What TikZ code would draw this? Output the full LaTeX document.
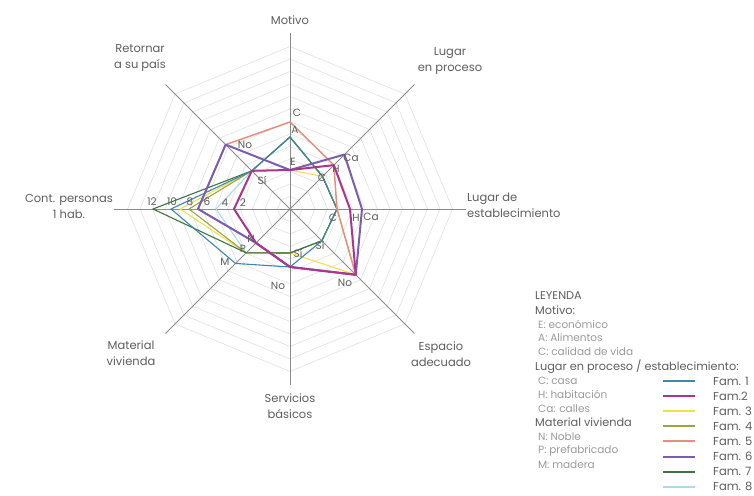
\documentclass[tikz,border=0pt]{standalone}
\usepackage{fontspec}
\setmainfont{Poppins}
\definecolor{txt}{HTML}{5E5E5E}
\definecolor{ltxt}{HTML}{9A9A9A}
\definecolor{fa}{HTML}{3F86A8}
\definecolor{fb}{HTML}{A8358E}
\definecolor{fc}{HTML}{F0E050}
\definecolor{fd}{HTML}{9DA346}
\definecolor{fe}{HTML}{E3907F}
\definecolor{ff}{HTML}{7B5FAE}
\definecolor{fg}{HTML}{3F7344}
\definecolor{fh}{HTML}{A9DBE6}
\begin{document}
\begin{tikzpicture}[x=1pt,y=1pt,
  ring/.style={draw=black!12, line width=0.6},
  spoke/.style={draw=black!45, line width=0.9},
  axlab/.style={font=\fontsize{11.5}{16}\selectfont, text=txt, align=center, inner sep=0},
  vlab/.style={font=\fontsize{10.5}{11}\selectfont, text=txt, inner sep=0},
  leg/.style={font=\fontsize{10.5}{11}\selectfont, text=ltxt, anchor=west, inner sep=0},
  leghead/.style={leg, font=\fontsize{11.3}{12}\selectfont, text=txt},
  famlab/.style={font=\fontsize{11.5}{12}\selectfont, text=txt, anchor=west, inner sep=0},
  fam/.style={line width=1.1, line join=round},
  famthick/.style={line width=2, line join=round}]
\useasboundingbox (-290,-286) rectangle (464,209);
\coordinate (O) at (0,0);
% grid rings
\foreach \k in {1,...,13}{
  \draw[ring] (0:{\k*12.5}) \foreach \a in {45,90,...,315}{ -- (\a:{\k*12.5})} -- cycle;
}
% axis ends
\coordinate (aMot) at (90:176);
\coordinate (aPro) at (45:176);
\coordinate (aEst) at (0:176);
\coordinate (aEsp) at (-45:176);
\coordinate (aSer) at (-90:176);
\coordinate (aMat) at (-135:176);
\coordinate (aCon) at (180:176);
\coordinate (aRet) at (135:176);
\foreach \e in {aMot,aPro,aEst,aEsp,aSer,aMat,aCon,aRet}{\draw[spoke] (O) -- (\e);}
% value points
\coordinate (mE) at (90:39); \coordinate (mA) at (90:72); \coordinate (mC) at (90:87);
\coordinate (pC) at (45:46); \coordinate (pH) at (45:62); \coordinate (pCa) at (45:77);
\coordinate (eC) at (0:47); \coordinate (eH) at (0:60); \coordinate (eCa) at (0:72);
\coordinate (sSi) at (-45:45); \coordinate (sNo) at (-45:93);
\coordinate (vSi) at (-90:44); \coordinate (vNo) at (-90:58);
\coordinate (mN) at (-135:48); \coordinate (mP) at (-135:62); \coordinate (mM) at (-135:77);
\foreach \n in {2,...,12}{\coordinate (c\n) at (180:{29+9*\n});}
\coordinate (rSi) at (135:54); \coordinate (rNo) at (135:91);
% families
\draw[fam, draw=fh] (mA) -- (pC) -- (eC) -- (sSi) -- (vSi) -- (mP) -- (c5) -- (rSi) -- cycle;
\draw[fam, draw=fc] (mE) -- (pC) -- (eC) -- (sNo) -- (vSi) -- (mP) -- (c9) -- (rSi) -- cycle;
\draw[fam, draw=fd] (mA) -- (pC) -- (eC) -- (sSi) -- (vSi) -- (mP) -- (c8) -- (rSi) -- cycle;
\draw[fam, draw=fg] (mA) -- (pC) -- (eC) -- (sSi) -- (vSi) -- (mP) -- (c12) -- (rSi) -- cycle;
\draw[fam, draw=fa] (mA) -- (pC) -- (eC) -- (sSi) -- (vNo) -- (mM) -- (c10) -- (rSi) -- cycle;
\draw[fam, draw=fe, line width=1.5] (mC) -- (pH) -- (eC) -- (sNo) -- (vNo) -- (mN) -- (c7) -- (rNo) -- cycle;
\draw[famthick, draw=ff] (mE) -- (pCa) -- (eCa) -- (sNo) -- (vNo) -- (mN) -- (c7) -- (rNo) -- cycle;
\draw[famthick, draw=fb] (mE) -- (pH) -- (eH) -- (sNo) -- (vNo) -- (mN) -- (c3) -- (rSi) -- cycle;
% axis labels
\node[axlab] (lMot) at (0,189) {Motivo};
\node[axlab] (lPro) at (160,148) {Lugar\\en proceso};
\node[axlab, anchor=west, align=left] (lEst) at (177,4) {Lugar de\\establecimiento};
\node[axlab] (lEsp) at (151,-145) {Espacio\\adecuado};
\node[axlab] (lSer) at (0,-197) {Servicios\\básicos};
\node[axlab] (lMat) at (-159,-144) {Material\\vivienda};
\node[axlab] (lCon) at (-221,3) {Cont. personas\\1 hab.};
\node[axlab] (lRet) at (-150,151) {Retornar\\a su país};
% value labels
\node[vlab] (tmC) at (7,96) {C};
\node[vlab] (tmA) at (5,79) {A};
\node[vlab] (tmE) at (3,47) {E};
\node[vlab] (tpCa) at (61,51) {Ca};
\node[vlab] (tpH) at (46,40) {H};
\node[vlab] (tpC) at (32,31) {C};
\node[vlab] (teC) at (43,-9) {C};
\node[vlab] (teH) at (66,-9) {H};
\node[vlab] (teCa) at (81,-8) {Ca};
\node[vlab] (tsSi) at (30,-36) {Sí};
\node[vlab] (tsNo) at (55,-74) {No};
\node[vlab] (tvSi) at (8,-44) {Sí};
\node[vlab] (tvNo) at (-12,-77) {No};
\node[vlab] (tmN) at (-39,-30) {N};
\node[vlab] (tmP) at (-47,-40) {P};
\node[vlab] (tmM) at (-65,-53) {M};
\node[vlab] (tc12) at (-138,7) {12};
\node[vlab] (tc10) at (-118,7) {10};
\node[vlab] (tc8) at (-100,7) {8};
\node[vlab] (tc6) at (-83,7) {6};
\node[vlab] (tc4) at (-65,6) {4};
\node[vlab] (tc2) at (-47,6) {2};
\node[vlab] (trNo) at (-45,64) {No};
\node[vlab] (trSi) at (-28,29) {Sí};
% legend
\node[leghead] (g0) at (245,-87) {LEYENDA};
\node[leghead] (g1) at (245,-101) {Motivo:};
\node[leg] (g2) at (248,-115) {E: económico};
\node[leg] (g3) at (248,-129) {A: Alimentos};
\node[leg] (g4) at (248,-143) {C: calidad de vida};
\node[leghead] (g5) at (245,-157.5) {Lugar en proceso / establecimiento:};
\node[leg] (g6) at (248,-171.5) {C: casa};
\node[leg] (g7) at (248,-185.5) {H: habitación};
\node[leg] (g8) at (248,-199.5) {Ca: calles};
\node[leghead] (g9) at (245,-213.5) {Material vivienda};
\node[leg] (g10) at (248,-228) {N: Noble};
\node[leg] (g11) at (248,-242) {P: prefabricado};
\node[leg] (g12) at (248,-256) {M: madera};
\foreach \i/\c/\t in {1/fa/Fam. 1,2/fb/Fam.2,3/fc/Fam. 3,4/fd/Fam. 4,5/fe/Fam. 5,6/ff/Fam. 6,7/fg/Fam. 7,8/fh/Fam. 8}{
  \node[famlab] (f\i) at (423,{-172-15.1*(\i-1)}) {\t};
  \draw[draw=\c, line width=2] ([xshift=-50]f\i.west) -- ([xshift=-18]f\i.west);
}
\end{tikzpicture}
\end{document}
